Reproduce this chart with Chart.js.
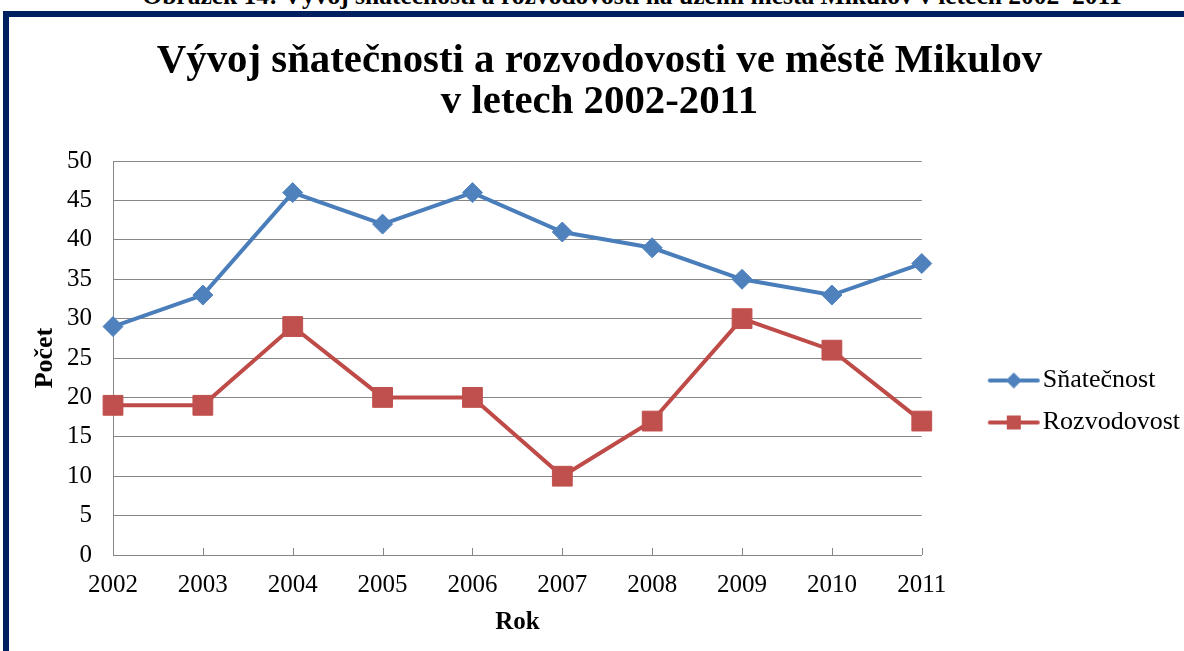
<!DOCTYPE html>
<html><head><meta charset="utf-8">
<script src="https://cdn.jsdelivr.net/npm/chart.js@4"></script>
<style>
html,body{margin:0;padding:0;background:#fff;overflow:hidden;width:1184px;height:651px;}
#cap{position:absolute;left:0;width:1264px;top:-19px;text-align:center;font:bold 25.5px "Liberation Serif";white-space:nowrap;color:#000;}
#frame{position:absolute;left:3px;top:11px;width:1300px;height:800px;border-left:6px solid #002060;border-top:6px solid #002060;}
#wrap{position:absolute;left:0;top:0;width:1200px;height:651px;}
</style></head><body>
<div id="cap">Obrázek 14: Vývoj sňatečnosti a rozvodovosti na území města Mikulov v letech 2002–2011</div>
<div id="frame"></div>
<div id="wrap"><canvas id="c" width="1200" height="651"></canvas></div>
<script>
const years = ['2002','2003','2004','2005','2006','2007','2008','2009','2010','2011'];
const snatecnost = [29,33,46,42,46,41,39,35,33,37];
const rozvodovost = [19,19,29,20,20,10,17,30,26,17];
const yMin = 0, yMax = 50, yStep = 5;
const titleLines = ['Vývoj sňatečnosti a rozvodovosti ve městě Mikulov','v letech 2002-2011'];
const seriesNames = ['Sňatečnost','Rozvodovost'];

const BLUE = '#4A7EBB', BLUE_FILL = '#4F81BD';
const RED = '#BE4B48', RED_FILL = '#C0504D';
const GRID = '#868686';
const CLEAR = 'rgba(0,0,0,0)';
const FONT = '"Liberation Serif", "Times New Roman", serif';

function legendIcon(style, line, fill){
  const c = document.createElement('canvas');
  c.width = 54; c.height = 24;
  const g = c.getContext('2d');
  g.strokeStyle = line; g.lineWidth = 4; g.lineCap = 'round';
  g.beginPath(); g.moveTo(3,12); g.lineTo(51,12); g.stroke();
  g.fillStyle = fill;
  if (style === 'diamond'){
    g.beginPath(); g.moveTo(27,4); g.lineTo(35,12); g.lineTo(27,20); g.lineTo(19,12); g.closePath(); g.fill();
  } else {
    g.fillRect(20,5,14,14);
  }
  return c;
}
const icons = [legendIcon('diamond', BLUE, BLUE_FILL), legendIcon('square', RED, RED_FILL)];

const innerTicks = {
  id:'innerTicks',
  afterDraw(chart){
    const xs = chart.scales.x, b = chart.chartArea.bottom, ctx = chart.ctx;
    ctx.save(); ctx.strokeStyle = GRID; ctx.lineWidth = 1;
    xs.ticks.forEach((t,i)=>{
      const px = Math.round(xs.getPixelForTick(i)) + 0.5;
      ctx.beginPath(); ctx.moveTo(px,b); ctx.lineTo(px,b-7); ctx.stroke();
    });
    ctx.restore();
  }
};

new Chart(document.getElementById('c'), {
  type:'line',
  data:{
    labels: years,
    datasets:[
      {label: seriesNames[0], data: snatecnost, borderColor: BLUE, backgroundColor: BLUE_FILL, borderWidth: 4,
       pointStyle:'rectRot', pointRadius: 10, pointHoverRadius: 10, pointBackgroundColor: BLUE_FILL, pointBorderColor: BLUE_FILL, pointBorderWidth:1, tension:0},
      {label: seriesNames[1], data: rozvodovost, borderColor: RED, backgroundColor: RED_FILL, borderWidth: 4,
       pointStyle:'rect', pointRadius: 14, pointHoverRadius: 14, pointBackgroundColor: RED_FILL, pointBorderColor: RED_FILL, pointBorderWidth:1, tension:0}
    ]
  },
  options:{
    responsive:false, animation:false,
    layout:{padding:{top:41.5, left:9, right:10, bottom:15.5}},
    plugins:{
      title:{display:true, text:titleLines, color:'#000', font:{family:FONT, size:40.8, weight:'bold', lineHeight:1.0}, padding:{top:0,bottom:38}},
      legend:{position:'right', maxWidth:400,
        title:{display:true, text:' ', color:'#000', font:{size:12, lineHeight:1}, padding:{top:57,bottom:57}},
        labels:{
        usePointStyle:true, pointStyleWidth:32, boxHeight:26, padding:16, color:'#000',
        font:{family:FONT, size:26},
        generateLabels(chart){
          return chart.data.datasets.map((ds,i)=>({text:ds.label, pointStyle: icons[i], fillStyle: ds.backgroundColor, strokeStyle: ds.borderColor, fontColor:'#000', lineWidth:0, hidden:false, datasetIndex:i}));
        }
      }},
      tooltip:{enabled:false}
    },
    scales:{
      x:{type:'category', offset:false,
         grid:{display:true, drawOnChartArea:false, drawTicks:true, tickLength:17.5, tickColor:CLEAR, color:CLEAR},
         border:{display:true, color:GRID, width:1},
         ticks:{color:'#000', font:{family:FONT, size:25, lineHeight:1.0}, padding:0, maxRotation:0, autoSkip:false},
         title:{display:true, text:'Rok', color:'#000', font:{family:FONT, size:25, weight:'bold', lineHeight:1.0}, padding:{top:13,bottom:0}}
      },
      y:{min:yMin, max:yMax,
         grid:{color:GRID, drawTicks:true, tickLength:21, tickColor:CLEAR},
         border:{display:true, color:GRID, width:1},
         ticks:{stepSize:yStep, color:'#000', font:{family:FONT, size:25}, padding:0},
         title:{display:true, text:'Počet', color:'#000', font:{family:FONT, size:26, weight:'bold'}, padding:{top:20.4,bottom:6.4}}
      },
      yR:{position:'right', display:true, grid:{display:false}, border:{display:false}, ticks:{display:false},
          afterFit(s){ s.width = 60; }}
    }
  },
  plugins:[innerTicks]
});
</script>
</body></html>
